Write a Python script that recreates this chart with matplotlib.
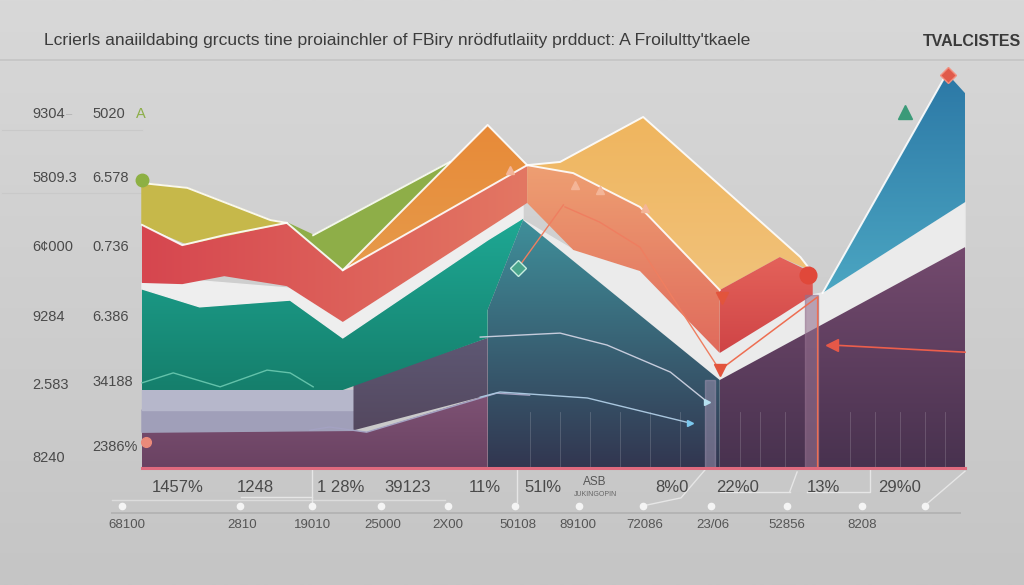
import numpy as np
import matplotlib
matplotlib.use("Agg")
import matplotlib.pyplot as plt
from matplotlib.colors import LinearSegmentedColormap
from matplotlib.patches import Polygon

plt.rcParams['font.family'] = ['Liberation Sans', 'DejaVu Sans']

# ---- chart values (x: 0-100 along the plot, y: 0-100 value scale) ----
title = "Lcrierls anaiildabing grcucts tine proiainchler of FBiry nrödfutlaiity prdduct: A Froilultty'tkaele"
brand = "TVALCISTES"

y_labels_a = ["9304", "5809.3", "6¢000", "9284", "2.583", "8240"]
y_labels_b = ["5020", "6.578", "0.736", "6.386", "34188", "2386%"]
x_labels_top = ["1457%", "1248", "1 28%", "39123", "11%", "51l%", "8%0", "22%0", "13%", "29%0"]
x_labels_bot = ["68100", "2810", "19010", "25000", "2X00", "50108",
                "89100", "72086", "23/06", "52856", "8208"]
tick_dots = [-2.4, 11.9, 20.7, 29.0, 37.2, 45.3, 53.1, 60.9, 69.2, 78.4, 87.5, 95.1]

# base / lavender bands (left)
base_x = [0, 20.4, 22.8, 27.3, 42.0]
base_top = [9.0, 9.5, 10.3, 9.0, 18.3]
lav_x = [0, 25.7]
lav_mid = [14.6, 14.6]
lav_top = [19.6, 19.6]
slate_l_x = [25.7, 42.0]
slate_l_top = [21.1, 32.7]

teal_x = [0, 7.0, 18.0, 24.4, 42.0, 42.0, 46.3]
teal_bot = [19.6, 19.6, 19.6, 19.6, 32.7, 39.7, 62.3]
teal_top = [45.0, 40.5, 42.2, 32.7, 57.3, 57.3, 62.8]

red_x = [0, 4.9, 10.0, 17.6, 24.4, 46.8]
red_bot = [46.5, 46.2, 48.2, 45.7, 36.7, 66.6]
red_top = [61.1, 56.0, 58.5, 61.6, 49.7, 76.1]

olive_x = [0, 5.5, 15.6, 17.6]
olive_top = [71.6, 70.4, 62.3, 61.6]

green_x = [17.6, 20.8, 37.4, 24.4]
green_y = [61.6, 58.5, 76.9, 49.7]
orange_x = [24.4, 42.0, 46.8]
orange_y = [49.7, 86.2, 76.1]

# right section
gold_top_x = [46.8, 50.8, 60.9, 80.0, 81.5]
gold_top = [76.1, 76.9, 88.2, 53.0, 49.0]
salmon_x = [46.8, 52.4, 60.5, 70.2]
salmon_top = [76.1, 74.1, 65.6, 44.7]
salmon_bot = [66.6, 54.8, 49.5, 28.9]
block_x = [70.2, 77.5, 81.5]
block_top = [44.7, 53.0, 49.0]
block_bot = [28.9, 38.2, 43.5]

slate_x = [42.0, 42.0, 46.3, 70.2, 70.2]
slate_y = [0, 39.7, 62.3, 22.1, 0]
purple_x = [70.2, 70.2, 100, 100]
purple_y = [0, 22.1, 55.5, 0]
haze_x = [46.3, 52.4, 60.5, 70.2, 81.5, 82.7, 100, 100, 70.2]
haze_y = [62.3, 54.8, 49.5, 28.9, 43.5, 44.0, 66.8, 55.5, 22.1]
blue_x = [82.7, 97.8, 100, 100]
blue_y = [44.0, 99.2, 94.2, 66.8]

# thin series lines
line_a_x = [0, 3.8, 9.5, 15.2, 18.0, 20.8]
line_a_y = [21.4, 23.9, 20.4, 24.6, 23.9, 20.4]
line_b_x = [20.4, 22.8, 27.3, 43.1, 47.1]
line_b_y = [9.5, 10.3, 9.0, 18.8, 18.3]
line_c_x = [41.1, 50.8, 56.5, 64.2, 68.7]
line_c_y = [32.9, 33.9, 30.9, 24.1, 16.6]
line_d_x = [41.1, 43.5, 54.1, 66.6]
line_d_y = [17.8, 19.1, 17.6, 11.3]
line_e_x = [45.7, 51.2]
line_e_y = [50.3, 66.1]
line_f_x = [51.4, 55.6, 60.5, 70.2]
line_f_y = [65.6, 61.8, 55.5, 24.6]
line_g_x = [70.2, 82.1, 82.1]
line_g_y = [24.6, 43.0, 0]
line_h_x = [83.8, 100]
line_h_y = [30.9, 29.1]
pink_x = [44.7, 52.6, 55.6, 61.1]
pink_y = [74.9, 71.1, 69.8, 65.3]

XL = (-17.25, 107.17)
YL = (-29.4, 117.6)


def shade(ax, xs, ys, top, bottom, z, horizontal=False):
    poly = Polygon(np.column_stack([xs, ys]), closed=True,
                   facecolor='none', edgecolor='none')
    ax.add_patch(poly)
    cmap = LinearSegmentedColormap.from_list('g', [bottom, top])
    if horizontal:
        grad = np.linspace(0, 1, 256).reshape(1, -1)
    else:
        grad = np.linspace(0, 1, 256).reshape(-1, 1)
    im = ax.imshow(grad, cmap=cmap, origin='lower', aspect='auto', zorder=z,
                   extent=[min(xs), max(xs), min(ys), max(ys)],
                   interpolation='bilinear')
    im.set_clip_path(poly)


def band(x, bot, top):
    x = np.asarray(x, float)
    return (np.concatenate([x, x[::-1]]),
            np.concatenate([np.asarray(top, float), np.asarray(bot, float)[::-1]]))


fig = plt.figure(figsize=(10.24, 5.85), dpi=100)
ax = fig.add_axes([0, 0, 1, 1])
ax.set_axis_off()

# background
bg = np.linspace(0, 1, 256).reshape(-1, 1)
ax.imshow(bg, cmap=LinearSegmentedColormap.from_list('bg', ['#c5c5c5', '#d8d8d8']),
          origin='lower', aspect='auto', extent=[*XL, *YL], zorder=0)
ax.plot(XL, [102.5, 102.5], color='#c4c4c4', lw=1.2, zorder=1)
for gy in [85.0, 69.0]:
    ax.plot([-17, 0], [gy, gy], color='#c9c9c9', lw=0.8, zorder=1)

# left stack
bx, by = band(base_x, np.zeros(len(base_x)), base_top)
shade(ax, bx, by, '#7e5274', '#6a4262', 2)
lower = np.interp(lav_x, base_x, base_top)
bx, by = band(lav_x, lower, lav_mid)
ax.fill(bx, by, color='#a09fb9', zorder=2)
bx, by = band(lav_x, lav_mid, lav_top)
ax.fill(bx, by, color='#b6b7cb', zorder=2)
bx, by = band(slate_l_x, np.interp(slate_l_x, base_x, base_top), slate_l_top)
shade(ax, bx, by, '#5e5874', '#54485f', 2)

bx, by = band(teal_x, teal_bot, teal_top)
shade(ax, bx, by, '#1ea894', '#157f6c', 3)
bx, by = band(teal_x, teal_top, np.interp(teal_x, red_x, red_bot))
ax.fill(bx, by, color='#eeeeee', zorder=3)
bx, by = band(red_x, red_bot, red_top)
shade(ax, bx, by, '#e37763', '#d6464f', 4, horizontal=True)
bx, by = band(olive_x, np.interp(olive_x, red_x, red_top), olive_top)
ax.fill(bx, by, color='#c6b84a', zorder=4)
ax.fill(green_x, green_y, color='#8eae48', zorder=4)
shade(ax, orange_x, orange_y, '#e88a38', '#e69a4a', 4)

# right section
ax.fill(haze_x, haze_y, color='#ebebeb', zorder=2)
shade(ax, slate_x, slate_y, '#3f8f9a', '#323650', 3)
shade(ax, purple_x, purple_y, '#744a6e', '#48324f', 3)
shade(ax, blue_x, blue_y, '#2c78a6', '#4ba6c2', 3)
gx = list(gold_top_x) + [81.2, 77.5] + list(salmon_x[::-1])
gy = list(gold_top) + [49.7, 53.0] + list(salmon_top[::-1])
shade(ax, gx, gy, '#efb55e', '#f1c27a', 4)
bx, by = band(salmon_x, salmon_bot, salmon_top)
shade(ax, bx, by, '#ee9f72', '#e06a5c', 5)
bx, by = band(block_x, block_bot, block_top)
shade(ax, bx, by, '#e4625a', '#cf4446', 5)

# white seams
for sx, sy in [(olive_x, olive_top), (green_x[1:3], green_y[1:3]),
               (orange_x, orange_y), (red_x, red_top), (gold_top_x, gold_top),
               (blue_x[:2], blue_y[:2]), (salmon_x, salmon_top)]:
    ax.plot(sx, sy, color='white', lw=1.4, alpha=0.9, zorder=6)

# light vertical strips and faint grid in dark areas
ax.fill([68.4, 69.6, 69.6, 68.4], [0, 0, 22.1, 22.1], color='#9b90ad', alpha=0.55, zorder=6)
ax.fill([80.6, 82.1, 82.1, 80.6], [0, 0, 43.5, 43.5], color='#94708e', alpha=0.6, zorder=6)
for vx in [47.1, 50.8, 54.4, 58.1, 61.7, 65.4, 72.7, 75.1, 78.1, 86.0, 89.1, 92.1, 95.1, 97.6]:
    ax.plot([vx, vx], [0, 14], color='white', lw=0.6, alpha=0.18, zorder=6)

# series lines
ax.plot(line_a_x, line_a_y, color='#63c2aa', lw=1, zorder=7)
ax.plot(line_b_x, line_b_y, color='#a4a2c2', lw=1, zorder=7)
ax.plot(line_c_x, line_c_y, color='#c6ccdc', lw=1, zorder=7)
ax.plot(line_d_x, line_d_y, color='#a9c6de', lw=1, zorder=7)
ax.plot(line_c_x[-1], line_c_y[-1], marker='>', ms=4, color='#b6e0f0', zorder=8)
ax.plot(line_d_x[-1], line_d_y[-1], marker='>', ms=4, color='#7cc8ee', zorder=8)
ax.plot(line_e_x, line_e_y, color='#ef7e60', lw=1, zorder=7)
ax.plot(line_f_x, line_f_y, color='#ef7e60', lw=1, zorder=7)
ax.plot(line_g_x, line_g_y, color='#ee6e52', lw=1.1, zorder=7)
ax.plot(line_h_x, line_h_y, color='#ec5e4c', lw=1.2, zorder=7)
ax.plot(line_h_x[0], line_h_y[0], marker='<', ms=8, color='#e65848', zorder=8)
ax.plot(pink_x, pink_y, ls='none', marker='^', ms=6, color='#f4b597', zorder=8)

# markers
ax.plot(0, 72.4, marker='o', ms=9, color='#8db043', zorder=8)
ax.plot(45.7, 50.3, marker='D', ms=8, color='#4aa58c', mec='#c8eee0', zorder=8)
ax.plot(92.7, 89.4, marker='^', ms=10, color='#3b9a78', zorder=8)
ax.plot(97.9, 98.7, marker='D', ms=8, color='#e05a4a', mec='#f29080', zorder=8)
ax.plot(80.9, 48.5, marker='o', ms=12, color='#e0483a', zorder=8)
ax.plot(70.5, 42.7, marker='v', ms=9, color='#e2543c', zorder=8)
ax.plot(70.2, 24.6, marker='v', ms=9, color='#e2543c', zorder=8)
ax.plot(0.5, 6.5, marker='o', ms=7, color='#eb8a7a', zorder=8)

# baseline
ax.plot([0, 100], [0, 0], color='#e06a7e', lw=2.2, zorder=9)

# annotation rail below
ax.plot([-3.6, 36.8], [-8.0, -8.0], color='#dcdcdc', lw=1, zorder=2)
ax.plot([-3.6, 99.4], [-11.3, -11.3], color='#b4b4b4', lw=1.4, zorder=2)
ax.plot(tick_dots, [-9.5] * len(tick_dots), ls='none', marker='o', ms=4.5,
        color='#f4f4f4', zorder=3)
for sx, sy in [([20.7, 20.7], [-0.5, -9.3]), ([45.6, 45.6], [-0.5, -8.5]),
               ([60.9, 65.5, 68.4], [-9.5, -7.5, -0.5]), ([95.1, 100], [-9.5, -0.8]),
               ([70.2, 78.7], [-6.0, -6.0]), ([80.8, 88.5, 88.5], [-6.0, -6.0, -0.5]),
               ([78.7, 79.6], [-6.0, -1.0]), ([12.0, 20.7], [-7.4, -7.4])]:
    ax.plot(sx, sy, color='#e6e6e6', lw=1, zorder=2)

ax.set_xlim(*XL)
ax.set_ylim(*YL)

# ---- text ----
def px(x, y):
    return x / 1024, 1 - y / 585

fig.text(*px(44, 41), title, fontsize=12.6, color='#3c3c3c', va='center')
fig.text(*px(1021, 41), brand, fontsize=11.5, color='#3a3a3a', va='center',
         ha='right', fontweight='bold')

rows_a = [114, 178, 247, 317, 385, 458]
rows_b = [114, 178, 247, 317, 382, 447]
for lab, yy in zip(y_labels_a, rows_a):
    fig.text(*px(32, yy), lab, fontsize=10.5, color='#4a4a4a', va='center')
for lab, yy in zip(y_labels_b, rows_b):
    fig.text(*px(92, yy), lab, fontsize=10.5, color='#4a4a4a', va='center')
fig.text(*px(136, 114), "A", fontsize=10.5, color='#8cae48', va='center')
fig.text(*px(66, 114), "–", fontsize=8, color='#b0b0b0', va='center')

top_centres = [178, 255, 341, 408, 485, 543, 672, 738, 823, 900]
for lab, xx in zip(x_labels_top, top_centres):
    fig.text(*px(xx, 488), lab, fontsize=12, color='#4a4a4a', ha='center', va='center')
fig.text(*px(595, 482), "ASB", fontsize=8.5, color='#555555', ha='center', va='center')
fig.text(*px(595, 494), "JUKINGOPIN", fontsize=5, color='#666666', ha='center', va='center')

bot_centres = [127, 242, 313, 383, 448, 518, 578, 645, 713, 787, 862]
for lab, xx in zip(x_labels_bot, bot_centres):
    fig.text(*px(xx, 525), lab, fontsize=9.5, color='#555555', ha='center', va='center')

fig.savefig("out.png", dpi=100)
